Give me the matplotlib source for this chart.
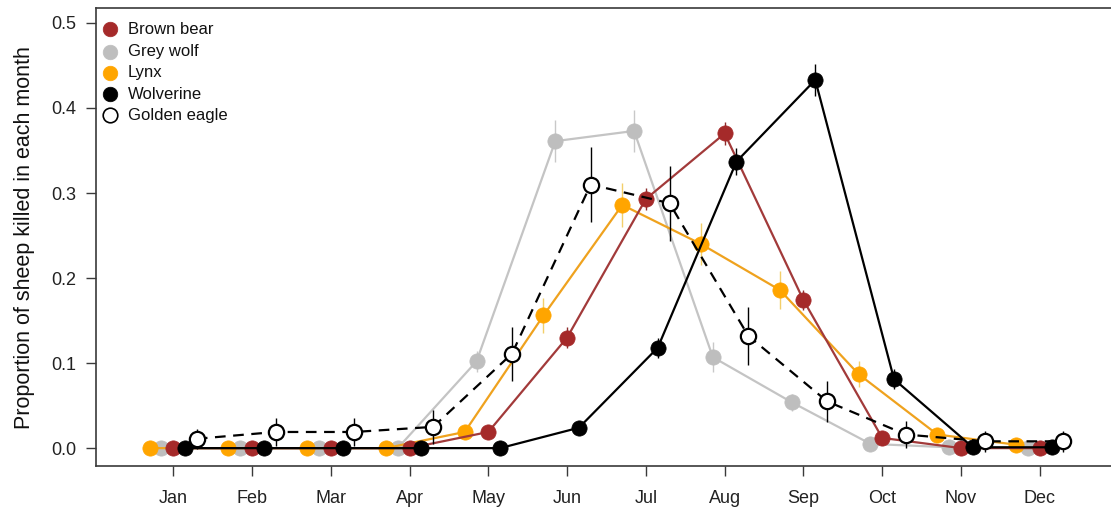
import numpy as np
import matplotlib
matplotlib.use("Agg")
import matplotlib.pyplot as plt

plt.rcParams['font.family'] = ['Liberation Sans', 'DejaVu Sans']

months = ["Jan", "Feb", "Mar", "Apr", "May", "Jun",
          "Jul", "Aug", "Sep", "Oct", "Nov", "Dec"]

species = ["Brown bear", "Grey wolf", "Lynx", "Wolverine", "Golden eagle"]

brown_bear = [0, 0, 0, 0, 0.019, 0.130, 0.293, 0.370, 0.174, 0.012, 0, 0]
grey_wolf = [0, 0, 0, 0, 0.102, 0.361, 0.373, 0.107, 0.054, 0.005, 0.001, 0]
lynx = [0, 0, 0, 0, 0.019, 0.156, 0.286, 0.240, 0.186, 0.087, 0.016, 0.004]
wolverine = [0, 0, 0, 0, 0, 0.024, 0.118, 0.337, 0.433, 0.081, 0.001, 0.001]
golden_eagle = [0.011, 0.019, 0.019, 0.025, 0.111, 0.310, 0.288, 0.132,
                0.055, 0.016, 0.008, 0.008]

# half-widths of the uncertainty bars
brown_bear_err = [0, 0, 0, 0, 0.006, 0.012, 0.013, 0.014, 0.012, 0.005, 0, 0]
grey_wolf_err = [0, 0, 0, 0, 0.012, 0.025, 0.025, 0.018, 0.010, 0.004, 0.002, 0]
lynx_err = [0, 0, 0, 0, 0.008, 0.021, 0.026, 0.025, 0.022, 0.015, 0.006, 0.003]
wolverine_err = [0, 0, 0, 0, 0, 0.008, 0.012, 0.016, 0.019, 0.012, 0.002, 0.002]
golden_eagle_err = [0.012, 0.016, 0.016, 0.020, 0.032, 0.044, 0.044, 0.034,
                    0.024, 0.016, 0.012, 0.012]

# per species: values, errors, x offset, marker face, line colour, bar colour,
# line style, draw order
styles = {
    "Grey wolf":    (grey_wolf, grey_wolf_err, -0.15, "#BEBEBE", "#C4C4C4", "#C8C8C8", "-", 2),
    "Lynx":         (lynx, lynx_err, -0.30, "#FFA500", "#EFA21E", "#F3CF6A", "-", 3),
    "Brown bear":   (brown_bear, brown_bear_err, 0.0, "#A52A2A", "#A23A3A", "#8E2B2B", "-", 4),
    "Wolverine":    (wolverine, wolverine_err, 0.15, "#000000", "#000000", "#000000", "-", 5),
    "Golden eagle": (golden_eagle, golden_eagle_err, 0.30, "#FFFFFF", "#000000", "#000000", "--", 6),
}

fig = plt.figure(figsize=(11.11, 5.08), dpi=100)
ax = fig.add_axes([0.0864, 0.0827, 0.919, 0.9006])

x = np.arange(1, 13)
for name in ["Grey wolf", "Lynx", "Brown bear", "Wolverine", "Golden eagle"]:
    vals, errs, off, face, lc, bc, ls, z = styles[name]
    vals = np.array(vals)
    errs = np.array(errs)
    xs = x + off
    ax.vlines(xs, vals - errs, vals + errs, colors=bc, linewidth=1.0, zorder=z)
    line, = ax.plot(xs, vals, color=lc, linewidth=1.6, linestyle=ls, zorder=z,
                    marker="o", markersize=11, markerfacecolor=face,
                    markeredgecolor=lc if name == "Golden eagle" else face,
                    markeredgewidth=1.6 if name == "Golden eagle" else 0.5)
    if ls == "--":
        line.set_dashes((4.8, 3.4))

ax.set_xlim(0.02, 12.98)
ax.set_ylim(-0.021, 0.517)
ax.set_xticks(x)
ax.set_xticklabels(months)
ax.set_yticks([0.0, 0.1, 0.2, 0.3, 0.4, 0.5])
ax.set_yticklabels(["0.0", "0.1", "0.2", "0.3", "0.4", "0.5"])

for side in ["left", "bottom", "top"]:
    ax.spines[side].set_color("#3a3a3a")
    ax.spines[side].set_linewidth(1.2)
ax.spines["right"].set_visible(False)

ax.tick_params(axis="both", direction="out", length=7, width=1.0,
               color="#3a3a3a", labelsize=13, labelcolor="#222222")
ax.tick_params(axis="x", pad=10)
ax.tick_params(axis="y", pad=7)

ax.set_ylabel("Proportion of sheep killed in each month", fontsize=15.5,
              color="#111111", labelpad=12)

# legend rows
legend_face = {"Brown bear": "#A52A2A", "Grey wolf": "#BEBEBE", "Lynx": "#FFA500",
               "Wolverine": "#000000", "Golden eagle": "#FFFFFF"}
rows_y = [0.955, 0.905, 0.859, 0.813, 0.767]
for name, yy in zip(species, rows_y):
    face = legend_face[name]
    edge = "#000000" if name == "Golden eagle" else face
    ax.plot([0.0137], [yy], transform=ax.transAxes, marker="o", markersize=10.5,
            markerfacecolor=face, markeredgecolor=edge,
            markeredgewidth=1.2 if name == "Golden eagle" else 0.5,
            linestyle="none", clip_on=False, zorder=10)
    ax.text(0.0313, yy, name, transform=ax.transAxes, fontsize=12,
            va="center", ha="left", color="#111111", zorder=10)

fig.savefig("out.png", dpi=100)
